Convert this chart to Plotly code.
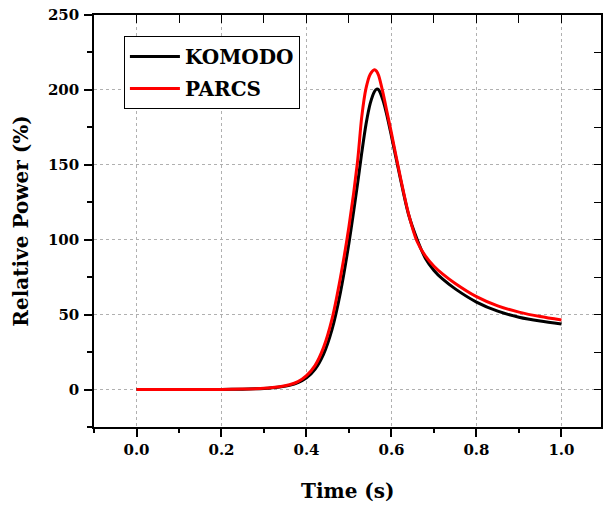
import plotly.graph_objects as go

time_s = [0.0, 0.05, 0.1, 0.15, 0.2, 0.25, 0.28, 0.3, 0.32, 0.34, 0.36, 0.38, 0.4, 0.42, 0.44,
          0.46, 0.48, 0.5, 0.52, 0.53, 0.54, 0.55, 0.56, 0.565, 0.57, 0.58, 0.59, 0.6, 0.62,
          0.64, 0.66, 0.68, 0.7, 0.72, 0.75, 0.8, 0.85, 0.9, 0.95, 1.0]

komodo = [0.0, 0.0, 0.0, 0.03, 0.08, 0.25, 0.5, 0.75, 1.2, 1.8, 2.8, 4.6, 7.8, 13.5, 23.5,
          40.0, 65.0, 98.0, 137.0, 158.0, 177.0, 191.0, 199.0, 200.5, 200.0, 193.0, 182.0, 169.0, 142.0,
          117.0, 100.5, 87.5, 79.5, 73.8, 67.2, 58.4, 52.3, 48.3, 45.7, 43.8]

parcs = [0.0, 0.0, 0.0, 0.04, 0.1, 0.3, 0.6, 0.9, 1.4, 2.1, 3.2, 5.3, 9.3, 16.0, 28.0,
         47.0, 75.0, 109.0, 152.0, 182.0, 201.0, 210.5, 213.5, 212.5, 209.5, 198.0, 184.5, 171.0, 143.0,
         117.5, 99.0, 89.0, 82.3, 77.2, 70.8, 62.0, 55.8, 51.7, 48.7, 46.4]

series_names = ["KOMODO", "PARCS"]
series_colors = ["#000000", "#ff0000"]

x_range = [-0.1, 1.093]
y_range = [-25, 250]
x_ticks = [0.0, 0.2, 0.4, 0.6, 0.8, 1.0]
x_tick_text = ["0.0", "0.2", "0.4", "0.6", "0.8", "1.0"]
y_ticks = [0, 50, 100, 150, 200, 250]

FONT = "DejaVu Serif"

fig = go.Figure()
for name, vals, col in zip(series_names, [komodo, parcs], series_colors):
    fig.add_trace(go.Scatter(x=time_s, y=vals, mode="lines", name=name, legendgroup=name,
                             line=dict(color=col, width=3, shape="spline", smoothing=0.8)))

# invisible trace for mirrored (inward) top/right ticks
fig.add_trace(go.Scatter(x=time_s, y=parcs, mode="lines", xaxis="x2", yaxis="y2",
                         line=dict(width=0), opacity=0, showlegend=False, hoverinfo="skip"))

axis_common = dict(showline=True, linecolor="black", linewidth=1.5,
                   showgrid=True, gridcolor="#b0b0b0", griddash="dot", gridwidth=1,
                   zeroline=False, ticks="outside", tickcolor="black", tickwidth=1.5,
                   tickfont=dict(family=FONT, size=15, color="black", weight="bold"))

fig.update_layout(
    width=603, height=505,
    margin=dict(l=94, r=2, t=15, b=78),
    paper_bgcolor="white", plot_bgcolor="white",
    font=dict(family=FONT, color="black"),
    xaxis=dict(range=x_range, tickvals=x_ticks, ticktext=x_tick_text, ticklen=8,
               minor=dict(dtick=0.1, tick0=0, ticklen=4, ticks="outside", tickcolor="black", showgrid=False),
               ticklabelstandoff=0, **axis_common),
    yaxis=dict(range=y_range, tickvals=y_ticks, ticklen=8,
               minor=dict(dtick=25, tick0=0, ticklen=5, ticks="outside", tickcolor="black", showgrid=False),
               title=dict(text="<b>Relative Power (%)</b>", font=dict(family=FONT, size=20), standoff=14),
               ticklabelstandoff=2, **axis_common),
    xaxis2=dict(range=x_range, overlaying="x", side="top", anchor="y2", showline=True, linecolor="black",
                linewidth=1.5, ticks="inside", dtick=0.1, tick0=0, ticklen=8, tickcolor="black",
                showticklabels=False, showgrid=False, zeroline=False),
    yaxis2=dict(range=y_range, overlaying="y", side="right", anchor="x2", showline=True, linecolor="black",
                linewidth=1.5, ticks="inside", dtick=25, tick0=0, ticklen=7, tickcolor="black",
                showticklabels=False, showgrid=False, zeroline=False),
    legend=dict(x=0.059, y=0.949, xanchor="left", yanchor="top", bgcolor="white",
                bordercolor="black", borderwidth=1, itemwidth=50, tracegroupgap=3,
                traceorder="grouped",
                font=dict(family=FONT, size=20, color="black", weight="bold")),
    showlegend=True,
    annotations=[dict(text="<b>Time (s)</b>", xref="paper", yref="paper", x=0.5, y=-0.1553,
                      xanchor="center", yanchor="middle", showarrow=False,
                      font=dict(family=FONT, size=20, color="black"))],
)

fig.write_html("out.html", config={"displayModeBar": False},
               post_script="document.body.style.margin='0';document.body.style.overflow='hidden';")
